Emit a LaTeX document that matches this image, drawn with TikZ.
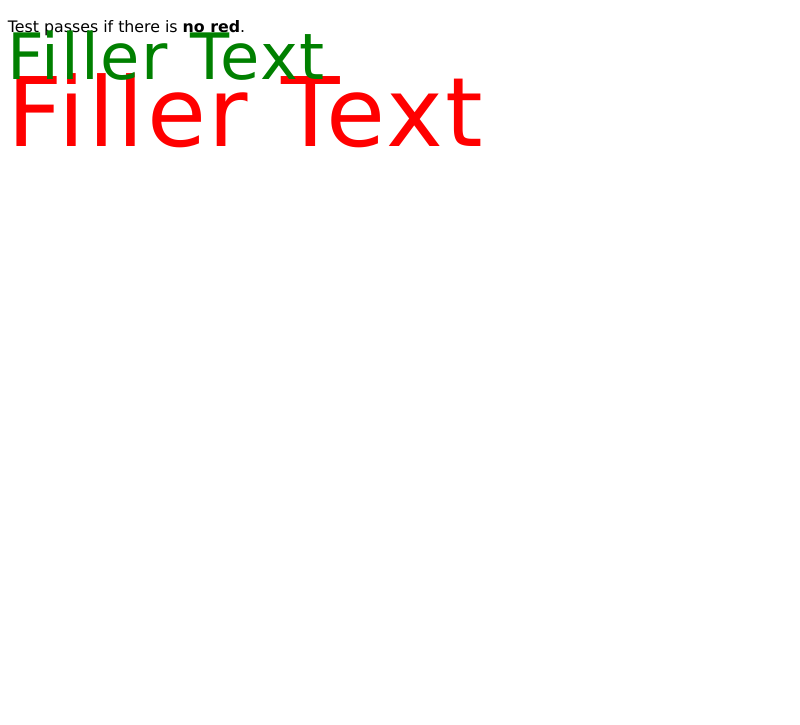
\documentclass[tikz,border=0pt]{standalone}
\usepackage{fontspec}
\setmainfont{DejaVu Sans}
\newfontfamily\fillerfont[LetterSpace=2.8]{DejaVu Sans}
\definecolor{webgreen}{RGB}{0,128,0}
\definecolor{webred}{RGB}{255,0,0}
\tikzset{
  txt/.style={anchor=base west, inner sep=0pt, outer sep=0pt},
}
\begin{document}
\begin{tikzpicture}[x=1pt,y=-1pt]
\useasboundingbox[fill=white] (0,0) rectangle (800,725);
\node[txt, font=\fontsize{15.8}{19}\selectfont] (note) at (8,32.5) {Test passes if there is \textbf{no red}.};
\node[txt, text=webred, font=\fillerfont\fontsize{96}{110}\selectfont] (red) at (8,146) {Filler Text};
\node[txt, text=webgreen, font=\fillerfont\fontsize{64}{74}\selectfont] (green) at (8,79) {Filler Text};
\end{tikzpicture}
\end{document}
